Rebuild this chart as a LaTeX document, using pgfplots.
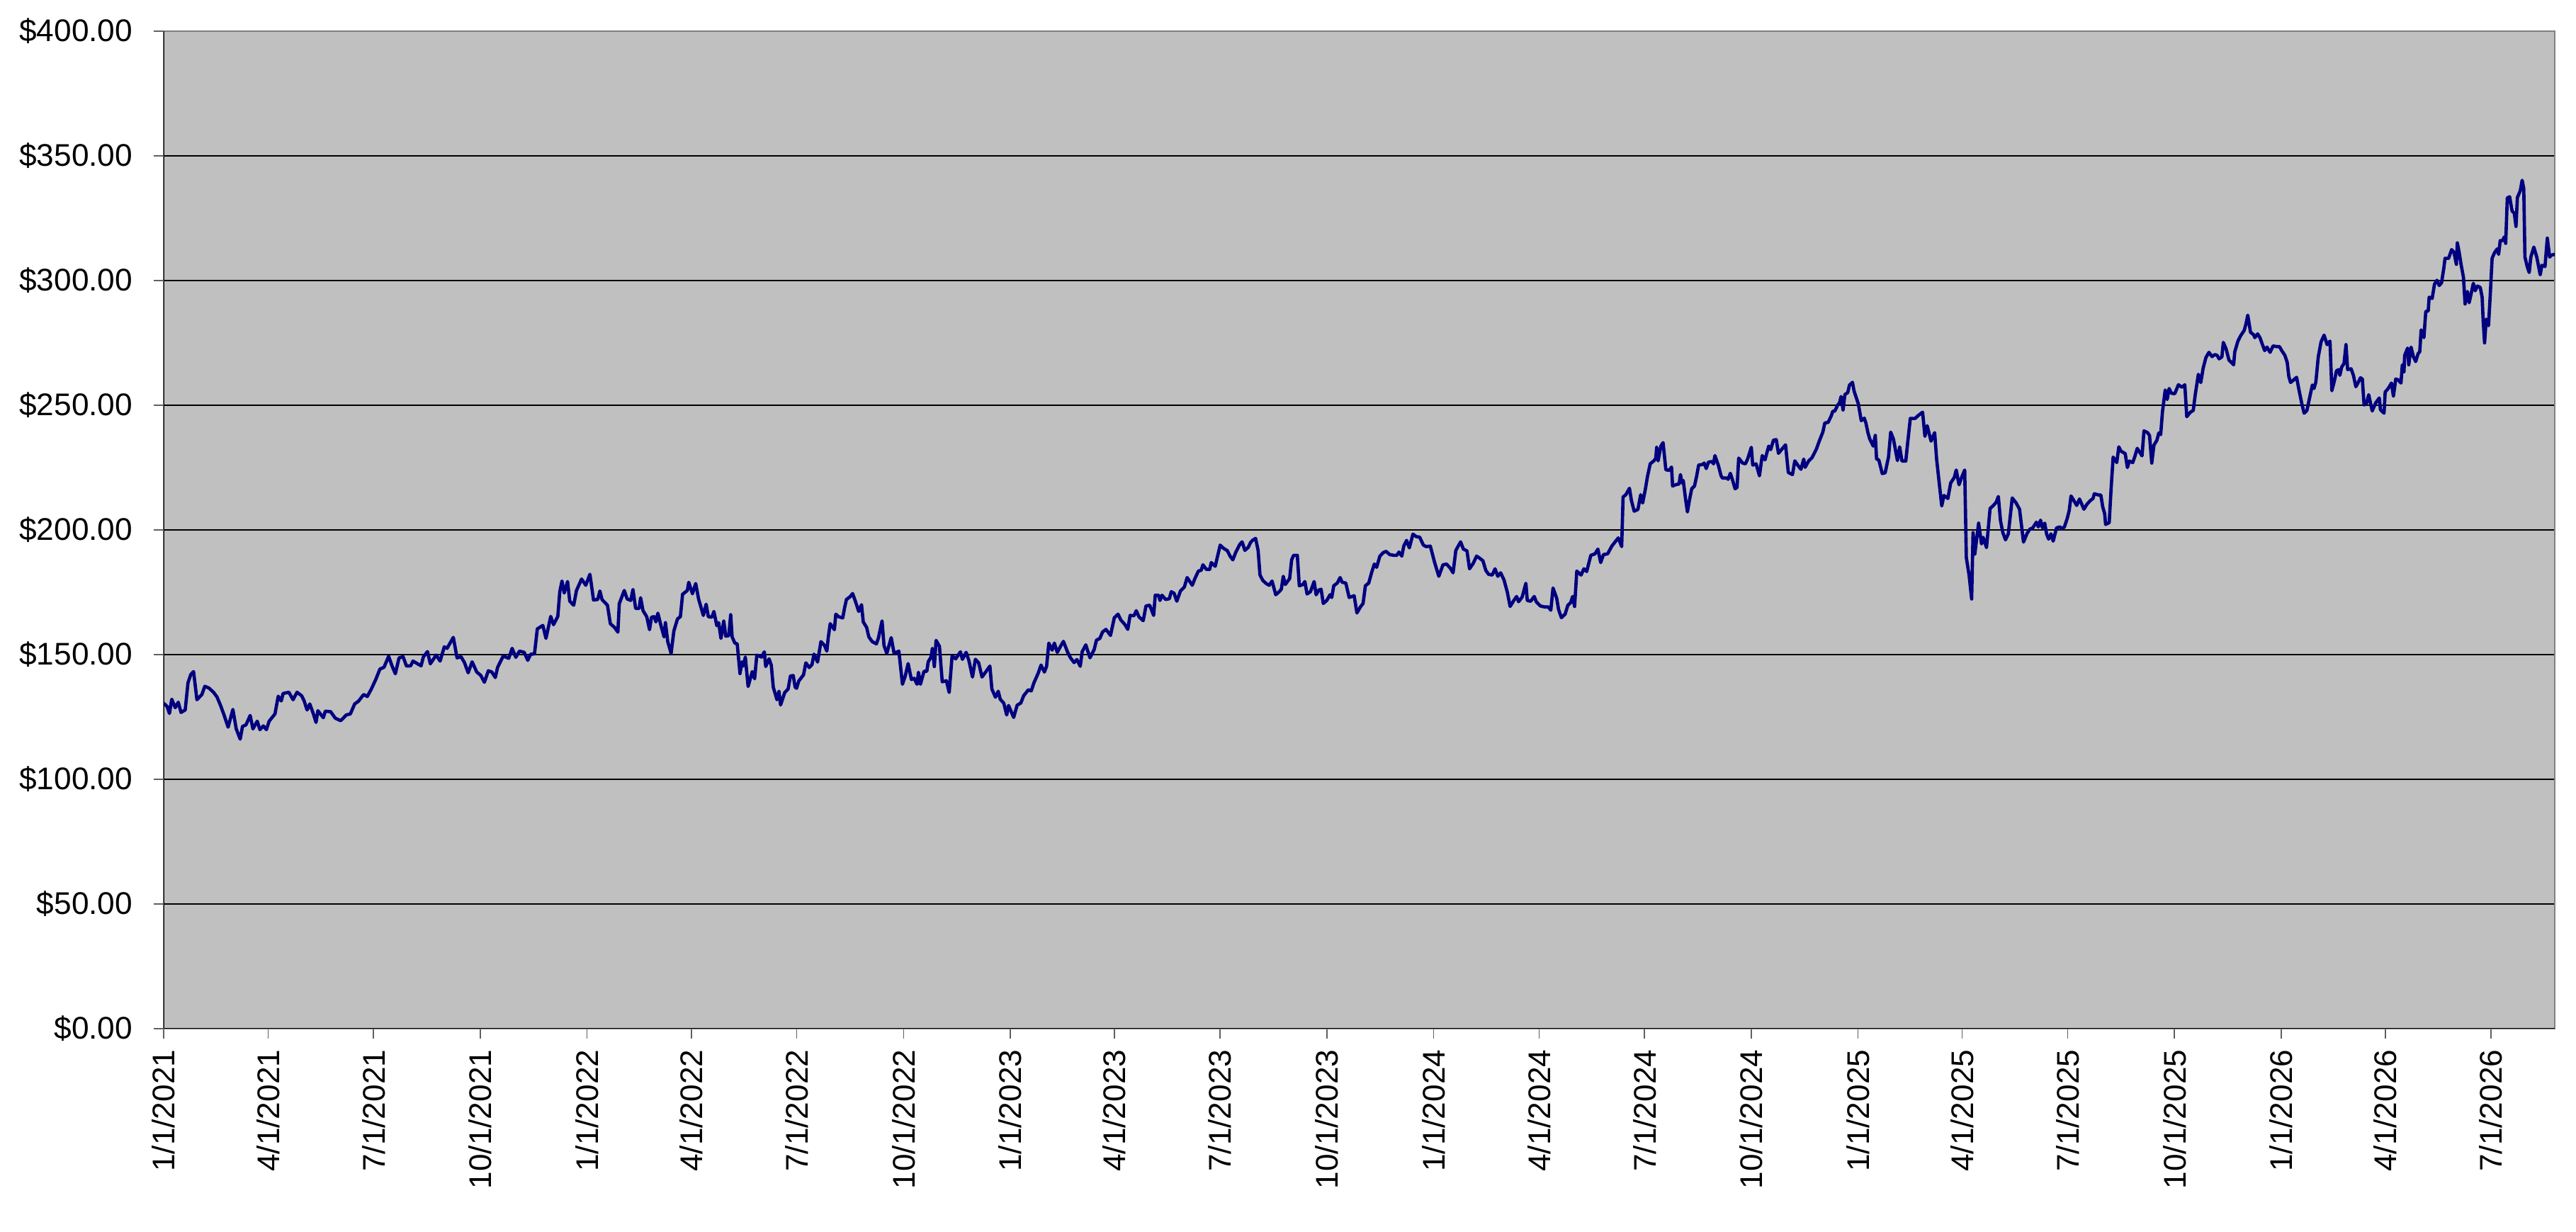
\documentclass[border=0pt]{standalone}
\usepackage{fontspec}
\setmainfont{Liberation Sans}
\usepackage{pgfplots}
\usepackage{pgfplotstable}
\pgfplotsset{compat=1.18}
\definecolor{plotbg}{HTML}{C0C0C0}
\definecolor{navyline}{HTML}{000080}
\definecolor{framegray}{HTML}{808080}
\definecolor{tickgray}{HTML}{606060}
\pgfplotstableread{
x y
0 130.5
3 129.2
5 126.4
7 132.1
10 128.7
12.6 130.9
15 126.8
18.6 127.8
21 138.7
23.4 142
25.8 143.2
28.7 131.9
33 134
35.5 137.3
39 136.6
43 134.9
46 133
49 129.7
52 125.9
55.6 120.9
59.7 128
62.6 120.2
66 116.1
68 121.2
71 121.8
74.6 125.6
77 120.2
80.7 123.3
83 119.9
86 121.4
88.6 119.9
91 123.3
96 126.2
98.8 133.3
101.4 131.4
103 134.4
108 134.9
111.6 131.9
115 134.9
119 133.5
121 131.6
123.7 127.8
126 130.2
129 126.4
131.4 122.8
133 127.5
137.7 124.7
139.4 127.3
144 127.1
148 124.5
152.7 123.5
157.5 125.8
161 126.2
164.7 130.2
168 131.3
172.5 134
175.6 133.2
179 136.1
183 140.1
186.5 144.2
190 144.9
194 149.3
197 145.4
199.8 142.3
203 148.7
206.5 149.1
209.4 145.4
213 145.5
215 147.4
219 146.3
222 145.5
224 149.1
227.5 151.2
230 146.3
235 149.8
238.4 147.4
242 153.1
244.4 152.5
249.8 156.9
253 148.7
256.5 149.1
259.4 146.8
262.6 142.7
266 147.1
270 143
273.4 141.7
276.6 138.9
280 143.5
283 143
286 140.8
288 144.9
292.8 149.4
297.6 148.5
300.5 152.5
303.7 148.9
306.8 151.4
310.9 150.9
314 147.7
316.4 150.1
319.8 150.3
322.2 160.3
327 161.7
329.7 156.5
333.8 165.3
336.2 162
339.9 165.3
341.6 175.2
343.5 179.5
345.4 174.7
348.3 179.3
350.2 171.4
353.6 169.8
356 175.7
360.4 180.3
364 177.8
367.6 182.2
370.7 171.9
374.3 172.1
376.2 175.5
378 172.1
382.7 169.8
385.2 162.4
388.8 160.9
391.7 159
392.9 170.4
397.2 175.7
399.7 172.3
402.8 171.7
404.7 176.1
407 168.5
410 168.5
411.3 172.8
413.4 167.6
416.6 165.2
419 160
420.7 165
423 165.2
424.5 163.1
426.2 166.6
428.7 161.9
431.5 157.1
432.7 162.8
434.7 155.2
437.6 150.5
440 159.5
443.1 164.3
445.6 165.2
447.5 174.2
451.6 175.7
452.8 179
456 174.4
458.8 178.5
461.3 172.3
465.4 165.7
467.8 170.2
469.7 165.2
472.8 165
474.5 167.3
477 161.6
478.6 162.8
480.6 156.5
483 163.5
484.7 157.4
487.3 157.6
489 166
490.2 157.1
492.6 154.6
494.6 154.3
497 142.4
498.7 147.1
499.9 145.4
501.6 149
504 137.2
507.6 143.2
509.6 140.3
511.5 149.8
515.6 149
518 151.1
519.2 145.2
522.1 148.3
524 145.7
525.7 136.9
528.9 131.9
530.6 135.3
532 129.8
535.6 134.8
538.5 136.2
540.5 141.4
542.9 141.6
544.6 136.9
545.8 136.5
547.7 139.4
551.8 141.9
553.8 146.7
556.7 144.8
559.1 146
560.8 150.2
563.9 147
566.8 155.2
570 153.6
571.9 151.4
573.1 156.8
574.8 162.4
578.4 160
579.6 166.2
582 165.2
585.6 164.7
587.3 169
588.8 172.1
592.2 173.3
594.1 174.5
596.5 171.4
599.4 167.3
601.8 170
603.3 163.1
606.2 160.9
608.1 157.1
611 155.2
614.6 154.3
616.3 156.5
619.5 163.5
621.2 153.6
623.6 150.5
627.4 156.8
629.9 150.5
634 151.4
637.1 138.1
639.5 141.4
642 146.4
644.8 140
647.2 140.5
649.7 138.1
650.9 142.9
652.6 138.1
655.7 143.3
658.1 143.3
659.3 147.1
661.7 149
662.9 152.4
664.6 145.2
666.1 155.7
669 153.3
671.4 139.1
675 139.5
677.4 134.8
679.9 149.5
683 148.3
687.1 151.1
688.8 148.1
692 150.9
694.4 147.6
697.5 141
700 148.1
702.8 146.7
705.7 141
709.6 143.5
712.5 145.4
714.2 136.2
717.3 132.9
719.7 135.3
721.4 132.1
724.5 130.5
727 125.8
728.6 129.6
733 124.8
736 129.7
739.2 130.6
741.6 133.5
745.7 135.9
748.1 135.4
750.5 138.7
754.1 142.5
756.6 145.8
759.5 143
761.4 145.3
763.3 154.6
766.2 151.8
768.1 154.6
770.6 150.9
773.5 153.4
775.9 155.3
779.5 151
782 148.7
785.1 146.8
787.5 148
790.4 145.3
792.1 151.2
795.2 153.9
798.8 148.7
802.4 152
804.4 155.8
807.3 156.5
809.7 159.1
812.6 160.1
816.5 157.7
819.8 164.8
823 166.2
825.4 163.9
829 162
831.4 160.1
833.4 165.7
836.8 165.6
838.7 167.6
841.1 165.1
844.7 163.6
847.1 169.5
850.3 169.8
853.7 165.7
855.1 173.8
858 173.8
859.2 171.7
860.9 173.8
864 172.1
867.2 172.4
868.9 175.2
871.3 174.6
873.7 171.4
876.8 175.5
880.2 177.1
882.6 180.9
887 177.8
889.4 180.6
892.3 183.5
894.7 183.8
896.2 186
899.1 184.2
902 184.1
903.4 186.9
906.8 185.4
908.7 189.2
911.1 193.9
914 192.6
917.2 191.7
919.6 189.5
922 188
924.4 190.9
928 194.2
930 195.2
932.4 191.8
935.3 193
937.2 194.9
938.9 195.8
941.6 196.6
943.8 191.8
945.4 181.9
947.9 179.7
951 178.4
953.4 177.8
955.8 179.5
959 174
961.9 175.2
963.8 176.2
965.5 181.4
967.2 178.1
971 180.5
972.7 188
974.4 189.8
977.6 189.8
979.3 177.6
982.4 178.1
984.1 179.3
986 174.3
988.9 175.2
992.1 179.3
993.8 174
996.2 175.9
998.1 176.2
1000 170.5
1003 171.7
1005.8 174
1007.3 172.9
1009 177.6
1012.1 178.7
1014.5 180.9
1016.2 179
1019.4 178.7
1022.3 172.9
1024.7 173.3
1026.6 173.6
1029 166.7
1032 169.1
1034.3 170.5
1036.3 177.6
1039.2 178.7
1041.6 182.8
1044 186.3
1046 185
1048.8 189.5
1051.7 190.9
1054.1 191.4
1057.3 190.1
1060.9 189.8
1063.3 189.8
1065.3 191.1
1067.7 189.5
1069.4 193.5
1071.8 195.8
1074.2 192.8
1077.3 198.3
1080.2 197.3
1083.1 197.1
1086.3 193.9
1088.7 193.3
1092.3 193.5
1095.9 187.1
1099.6 181.4
1103.2 186
1106.3 186.3
1109.4 184.7
1111.9 182.8
1114.3 191.8
1118.4 195.2
1120.8 192.3
1123.9 191.6
1126.1 184.4
1129.3 186.6
1132.2 189.5
1135.3 188.5
1137.7 187.6
1140.1 183.8
1142.5 182.2
1145.7 181.9
1148.1 184.4
1150.5 181.4
1152.9 182.8
1155.8 180
1158.7 175
1161.1 169.3
1164.3 171.7
1166.7 173.3
1168.4 171.2
1171.5 173.1
1174.7 178.6
1175.9 171.7
1178.8 171.4
1181.9 173.3
1183.6 171.2
1187.2 169.5
1190.9 169.1
1194 169.1
1196.2 167.8
1198.1 176.7
1201.2 172.7
1202.9 168.1
1205.3 164.8
1208.5 166.2
1210.9 169.8
1213.3 170.8
1215 173.3
1216.7 169.3
1218.6 183.5
1222.3 181.9
1224.7 184.4
1227.1 183.3
1230.7 189.8
1234.3 190.4
1236.8 192.3
1239.2 186.9
1241.6 190.1
1245.2 190.4
1248.8 193.5
1252 195.4
1254.4 196.8
1257.3 193.3
1258.5 213.2
1260.9 214.1
1264 216.7
1265.7 211.8
1268.1 207.5
1271.3 208.2
1273.7 214.1
1275.4 210.8
1277.8 216.5
1279.5 221.3
1281.9 226.5
1285.1 227.7
1286.7 228.7
1287.5 233.1
1288.7 227.7
1291.1 233.6
1293 235
1295.4 224.1
1298.3 223.9
1300.3 225.2
1301.2 217.6
1304.4 218.2
1306.8 218.4
1308 222.2
1309.2 218.9
1310.4 219.8
1312.3 212.7
1314 207.2
1315.7 211.8
1317.7 216.5
1320.1 217.6
1322 221.7
1323.7 226
1326.8 226.2
1328.5 226.8
1330.2 224.6
1332.2 227.2
1335 227.4
1336.5 226.5
1337.7 229.8
1340.6 226
1343 221.7
1344.2 220.8
1347.9 220.8
1349.1 220.3
1351 222.7
1352.7 220.3
1355.1 216.5
1356.8 217
1358.2 228.8
1361.6 226.8
1364 226.5
1365.9 228.4
1369.1 233.1
1370.3 226
1373.2 226.5
1376.1 221.7
1378.5 229.8
1380.9 228.1
1384.1 233.6
1385.8 232.2
1388.2 236
1390.6 236.2
1392.5 230.7
1396.2 232.8
1398.6 234.1
1401 223
1404.6 222.2
1406.6 227.7
1409.4 225.8
1411.9 224.3
1414.3 228.4
1415.5 225.1
1418.6 227.7
1421.5 229
1425.2 232.4
1427.6 235.5
1430.7 239.1
1432.5 242.9
1435.3 243.1
1438 245.7
1439.4 247.6
1441 247.6
1443.5 250
1445.1 250.9
1446.5 253.5
1448.2 248.1
1449.8 254.3
1452.2 255
1453.7 258
1456.3 259.2
1457.7 255.7
1459.4 253.3
1461.4 250.5
1463.9 243.8
1466.5 244.8
1467.9 242.9
1469.6 239.1
1471.1 236.6
1474.2 233.6
1476 237.9
1477.1 228.4
1479 228.1
1482 222.6
1484.5 222.9
1487.4 229.2
1489.3 239.2
1491.7 236.3
1495.1 227.8
1497 233.3
1499 227.6
1502.3 227.6
1503.8 234.4
1506.2 244.7
1510.3 244.7
1513.4 246
1516.8 247.2
1518.8 237.5
1520.7 241.8
1524.1 235.6
1527.2 239
1528.9 228.3
1530.8 220.2
1533.3 209.6
1535.2 213.8
1538.6 212.6
1541 218.8
1544.1 221
1545.8 224
1548.2 218.1
1550.6 221.2
1553.1 224
1554.5 188.9
1556.9 181.8
1559.1 172.3
1560.3 198.9
1561.8 190.3
1565.1 202.7
1567.6 194.4
1569 197
1571.9 192.9
1575 208.6
1577.9 209.8
1580.4 211.2
1582.1 213.4
1584 203.6
1586 198.9
1588.3 196
1590.7 198.4
1594.1 212.8
1597.3 210.9
1600.4 208.3
1602.1 201.7
1603.8 195.1
1606.9 198.6
1609.3 200.3
1611.8 200.8
1614.9 203.1
1616.6 201.2
1618.5 203.9
1620.2 200.8
1622.1 202.7
1623.8 198.2
1625.5 196.3
1627.5 198.4
1629.4 195.5
1632.3 200.8
1635.2 201.2
1637.1 200.5
1639.1 201.2
1641.5 204.6
1643.2 207.7
1644.8 213.6
1646.8 212.1
1649.7 209.8
1652.1 212.4
1655.9 208.3
1658.4 210.2
1661.3 211.7
1663.7 212.6
1664.9 214.5
1668.5 214
1670.5 214
1672.1 209.3
1673.8 206.5
1674.6 202.2
1677.7 202.9
1679.4 216.9
1681.1 229.2
1684.2 227
1686 233.3
1687.8 231.6
1691.5 230.6
1693.4 225
1695.1 227.6
1698 227
1700 229.7
1701.9 232.7
1706 229.7
1707.7 239.7
1710.8 239
1712.5 237.8
1714.4 226.8
1716.3 234
1718.8 235.9
1720.5 238.9
1722.1 238.2
1723.6 247.2
1726 256.1
1727.7 252.3
1729.4 256.7
1731.3 254.8
1734.2 254.6
1737.4 258.2
1740.5 257.2
1742.9 258.2
1744.6 245.4
1747.7 247.2
1750.2 247.9
1751.9 254.2
1754.6 262.4
1756.7 259.1
1758.7 264.8
1761.1 269.1
1763.7 271.2
1766.4 269.5
1768.8 270.3
1770.8 270
1772.5 268.6
1774.9 269.4
1776.1 275.2
1778.5 272.6
1781 268.1
1783 267.2
1785 266.2
1786 271.4
1788.7 275.7
1791.1 277.9
1794.1 280
1795.5 282.3
1797.2 286.1
1799.6 279.2
1802.2 278.3
1803.3 277.1
1805.7 278.6
1807.7 277.1
1809.7 274.5
1811.8 271.9
1813.8 273.3
1816.4 271.2
1819.1 273.8
1821.9 273.5
1824.5 273.5
1826.5 271.9
1829.2 270
1831.2 267.2
1832.6 261.5
1834.1 259.1
1836.7 260.1
1839.3 261.2
1841.3 256.3
1843.8 250.6
1845.8 246.8
1848.2 247.9
1850.3 252.5
1852.9 258.1
1854.3 256.7
1855.9 259.3
1858 269.4
1860.4 275.4
1863 278.1
1865.6 274.3
1868.1 275.7
1869.7 255.8
1872.1 260.2
1873.7 263.8
1875.8 264.3
1876.6 262
1878.2 265.3
1880.2 266.7
1881.9 274.3
1883.3 264.3
1886.3 264.6
1888.3 262
1890.4 257.4
1892.4 259.1
1894.4 261
1896 260.5
1897.5 250.1
1899.5 250.6
1901.5 254.2
1904.5 247.7
1907.6 251
1910.6 252.9
1911.6 248.2
1914.7 246.8
1915.7 255.3
1918.3 256.7
1921.1 258.9
1922.8 253.6
1924.8 260.5
1926.8 260.2
1929.3 258.9
1930.5 266.2
1931.9 263.4
1932.5 270
1935 272.9
1936 266.2
1938 273.3
1940 269.5
1942 267.5
1944.1 270.7
1945.5 271.4
1946.7 280.2
1949.1 277.1
1950.7 287.6
1952.8 287.8
1953.6 293.3
1956.2 292.8
1958.2 298.5
1960.3 300.1
1962.3 298
1964.3 299.1
1966.3 305.1
1967.3 308.9
1970.4 308.9
1973 312.4
1975 311.3
1977.1 306.5
1977.9 315.1
1979.5 311.3
1981.1 306.5
1983.2 301.3
1984.6 290.6
1986.6 295.6
1988.1 291.1
1989.6 294.2
1991.7 298.9
1993.3 295.9
1995.3 297.8
1997.7 297.2
1999.3 293.3
2000.2 283.8
2001.4 275
2002.8 284.5
2004.8 281.9
2006.3 294.2
2007.9 308.9
2009.9 311.1
2012.3 312.7
2013.5 310.5
2014.9 316
2016.9 316
2018.4 317.5
2019.6 314.9
2021 333.1
2023 333.6
2025.1 327.9
2027.1 326.9
2028.5 321.7
2029.7 333.3
2032.2 336
2033.8 340.2
2035.2 336.9
2036.2 309.4
2038.2 305.6
2039.9 303.2
2041.3 309.4
2043.9 313.4
2046.4 309.4
2048 305.6
2049.4 302.3
2050.8 306.1
2053.5 305.6
2055.5 317
2057.5 309.4
2059 310.2
2062 310.5
}\pricedata

\begin{document}
\begin{tikzpicture}
\begin{axis}[
  at={(0,0)}, anchor=south west,
  scale only axis,
  width=763.6pt, height=318.55pt,
  xmin=0, xmax=2062, ymin=0, ymax=400,
  axis background/.style={fill=plotbg},
  axis line style={framegray, line width=0.6pt},
  xtick={0,90,181,273,365,455,546,638,730,820,911,1003,1095,1186,1277,1369,1461,1551,1642,1734,1826,1916,2007},
  xticklabels={1/1/2021,4/1/2021,7/1/2021,10/1/2021,1/1/2022,4/1/2022,7/1/2022,10/1/2022,1/1/2023,4/1/2023,7/1/2023,10/1/2023,1/1/2024,4/1/2024,7/1/2024,10/1/2024,1/1/2025,4/1/2025,7/1/2025,10/1/2025,1/1/2026,4/1/2026,7/1/2026},
  ytick={0,50,100,150,200,250,300,350,400},
  yticklabels={\$0.00,\$50.00,\$100.00,\$150.00,\$200.00,\$250.00,\$300.00,\$350.00,\$400.00},
  ymajorgrids,
  grid style={black, line width=0.3pt},
  tick align=outside,
  xtick pos=bottom, ytick pos=left,
  major tick length=3.2pt,
  tick style={tickgray, line width=0.35pt},
  tick label style={font=\fontsize{10}{12}\selectfont},
  x tick label style={rotate=90, anchor=east},
  y tick label style={anchor=east},
  yticklabel shift=3.2pt,
  clip=true,
]
\addplot[navyline, line width=1.05pt, line join=round, mark=none] table[x=x, y=y] {\pricedata};
\draw[black, line width=0.4pt] (rel axis cs:0,1) -- (rel axis cs:0,0) -- (rel axis cs:1,0);
\end{axis}
\pgfresetboundingbox
\path[use as bounding box] (-52.26pt,-64.93pt) rectangle (770.36pt,328.5pt);
\end{tikzpicture}
\end{document}
